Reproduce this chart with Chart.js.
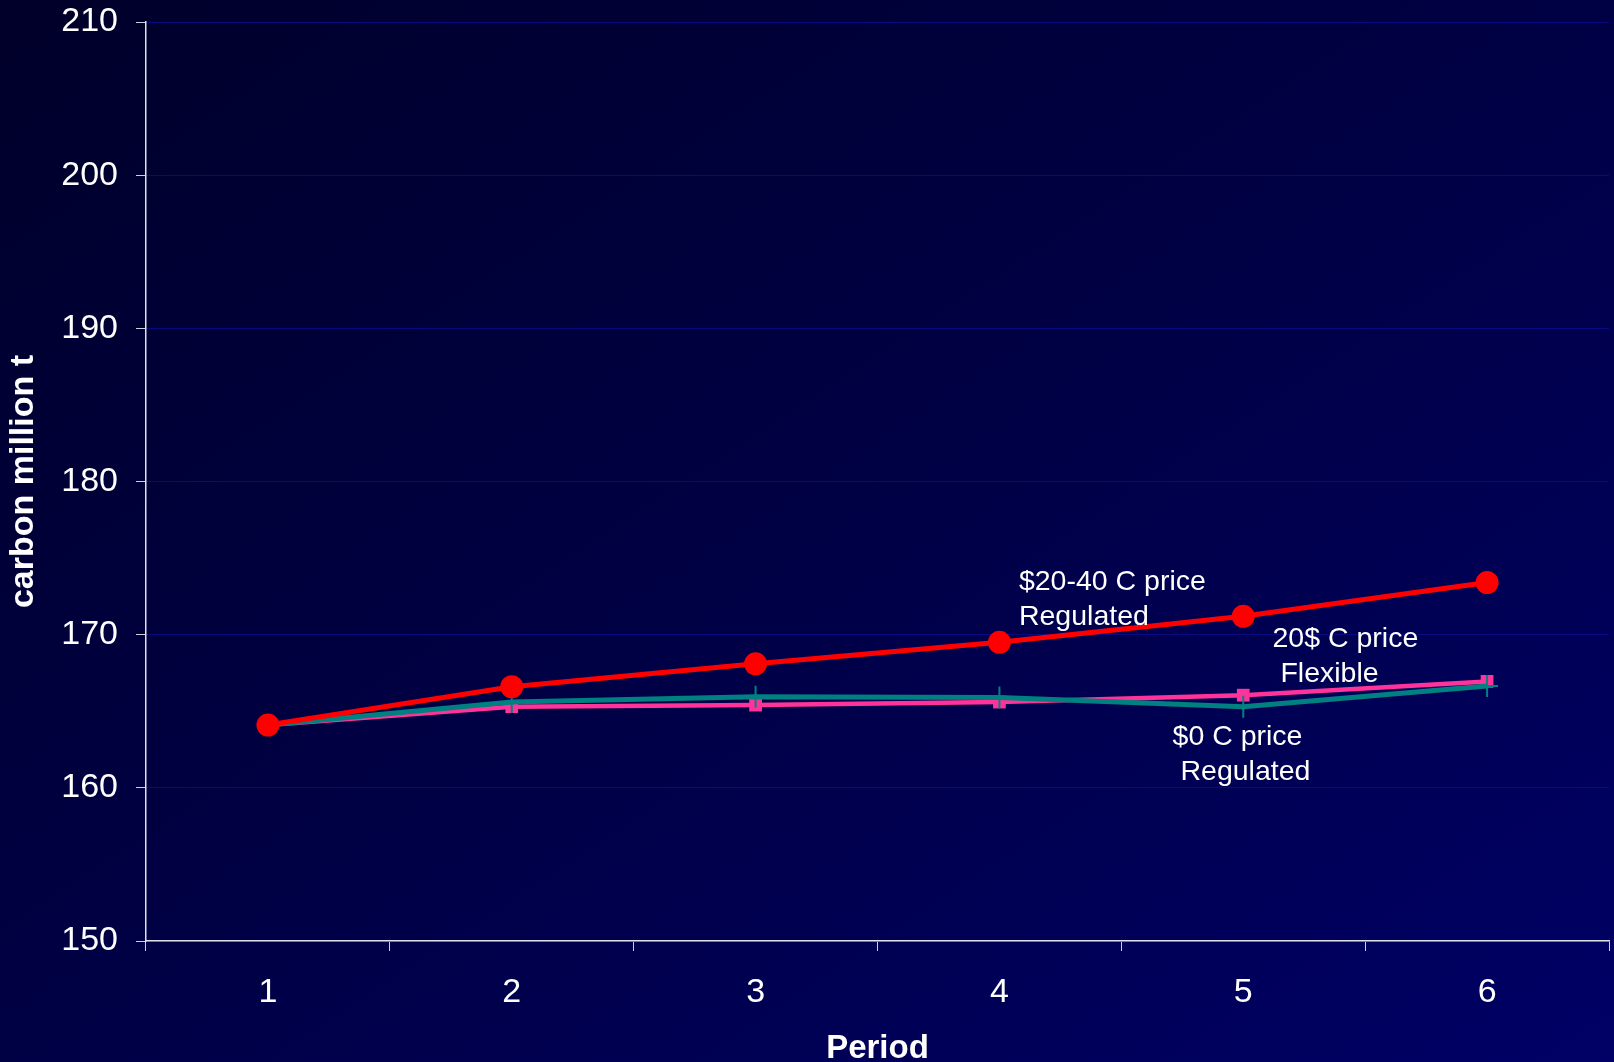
<!DOCTYPE html>
<html>
<head>
<meta charset="utf-8">
<script src="https://cdn.jsdelivr.net/npm/chart.js@4.4.1/dist/chart.umd.min.js"></script>
<style>
  html, body { margin: 0; padding: 0; background: #000030; }
  #wrap {
    width: 1614px; height: 1062px;
    background: linear-gradient(to bottom right, #00002a 0%, #000045 50%, #000066 100%);
  }
  canvas { display: block; }
</style>
</head>
<body>
<div id="wrap"><canvas id="chart" width="1614" height="1062"></canvas></div>
<script>
// Carbon stored per period under three pricing / management scenarios
const periods = ['1', '2', '3', '4', '5', '6'];
const regulatedPrice2040 = [164.1, 166.6, 168.1, 169.5, 171.2, 173.4];
const flexiblePrice20 = [164.1, 165.3, 165.4, 165.6, 166.05, 166.95];
const regulatedPrice0 = [164.1, 165.6, 165.95, 165.9, 165.3, 166.65];
const yTicks = [150, 160, 170, 180, 190, 200, 210];

// Scenario captions, each placed beside its own line
const captions = [
  ['$20-40 C price', 'Regulated'],
  ['20$ C price', ' Flexible'],
  ['$0 C price', ' Regulated']
];
// Caption anchors in chart coordinates: [category index, value]
const captionAnchors = [[3.08, 172.9], [4.12, 169.2], [3.71, 162.8]];

const FONT = '"Liberation Sans", Arial, Helvetica, sans-serif';

const captionPlugin = {
  id: 'captions',
  afterDatasetsDraw(chart) {
    const { ctx, scales: { x, y } } = chart;
    ctx.save();
    ctx.fillStyle = '#ffffff';
    ctx.font = '28.5px ' + FONT;
    ctx.textAlign = 'left';
    ctx.textBaseline = 'alphabetic';
    captions.forEach((lines, i) => {
      const px = x.getPixelForValue(captionAnchors[i][0]);
      const py = y.getPixelForValue(captionAnchors[i][1]);
      lines.forEach((t, j) => ctx.fillText(t, px, py + j * 35));
    });
    ctx.restore();
  }
};

// Let the layout padding alone decide the plot-area edges
function noScalePadding(scale) {
  scale.paddingTop = 0;
  scale.paddingBottom = 0;
  scale.paddingLeft = 0;
  scale.paddingRight = 0;
}

new Chart(document.getElementById('chart'), {
  type: 'line',
  data: {
    labels: periods,
    datasets: [
      {
        label: '$20-40 C price Regulated',
        data: regulatedPrice2040,
        borderColor: '#ff0000',
        backgroundColor: '#ff0000',
        borderWidth: 5,
        pointStyle: 'circle',
        pointRadius: 11.5,
        pointBorderWidth: 0,
        order: 0
      },
      {
        label: '$0 C price Regulated',
        data: regulatedPrice0,
        borderColor: '#008080',
        backgroundColor: '#008080',
        borderWidth: 5,
        pointStyle: 'cross',
        pointRadius: 11,
        pointBorderWidth: 2,
        order: 1
      },
      {
        label: '20$ C price Flexible',
        data: flexiblePrice20,
        borderColor: '#ff3399',
        backgroundColor: '#ff3399',
        borderWidth: 4.5,
        pointStyle: 'rect',
        pointRadius: 9,
        pointBorderWidth: 0,
        order: 2
      }
    ]
  },
  options: {
    responsive: false,
    animation: false,
    devicePixelRatio: 1,
    events: [],
    layout: { autoPadding: false, padding: { top: 22, right: 5, bottom: 0, left: 0 } },
    plugins: {
      legend: { display: false },
      tooltip: { enabled: false }
    },
    elements: { line: { tension: 0 } },
    scales: {
      x: {
        type: 'category',
        offset: true,
        afterFit(scale) { scale.height = 121; noScalePadding(scale); },
        grid: {
          offset: true,
          drawOnChartArea: false,
          drawTicks: true,
          tickLength: 10,
          tickColor: '#d0d0d8',
          tickWidth: 1
        },
        border: { display: true, color: '#e0e0e8', width: 1.5 },
        ticks: {
          color: '#ffffff',
          font: { family: FONT, size: 34 },
          padding: 21,
          maxRotation: 0
        },
        title: {
          display: true,
          text: 'Period',
          color: '#ffffff',
          font: { family: FONT, size: 33, weight: 'bold' },
          padding: { top: 0, bottom: -7 }
        }
      },
      y: {
        min: 150,
        max: 210,
        afterFit(scale) { scale.width = 146; noScalePadding(scale); },
        afterBuildTicks(scale) { scale.ticks = yTicks.map(v => ({ value: v })); },
        grid: {
          color: '#0a0a80',
          lineWidth: 1,
          drawTicks: true,
          tickLength: 10,
          tickColor: '#d0d0d8',
          tickWidth: 1
        },
        border: { display: true, color: '#e0e0e8', width: 1.5 },
        ticks: {
          color: '#ffffff',
          font: { family: FONT, size: 34 },
          padding: 18
        },
        title: {
          display: true,
          text: 'carbon million t',
          color: '#ffffff',
          font: { family: FONT, size: 34, weight: 'bold' },
          padding: { top: 3, bottom: 0 }
        }
      }
    }
  },
  plugins: [captionPlugin]
});
</script>
</body>
</html>
